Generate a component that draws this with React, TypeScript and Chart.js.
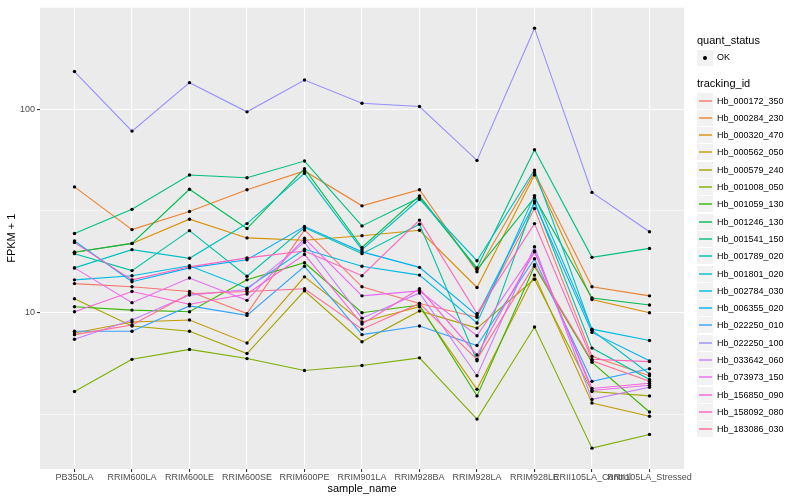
import React, { useEffect, useRef } from "react";
import { Chart, registerables } from "chart.js";

Chart.register(...registerables);

const categories = [
  "PB350LA", "RRIM600LA", "RRIM600LE", "RRIM600SE", "RRIM600PE", "RRIM901LA",
  "RRIM928BA", "RRIM928LA", "RRIM928LE", "RRII105LA_Control", "RRII105LA_Stressed",
];

const trackingIds = [
  "Hb_000172_350", "Hb_000284_230", "Hb_000320_470", "Hb_000562_050", "Hb_000579_240",
  "Hb_001008_050", "Hb_001059_130", "Hb_001246_130", "Hb_001541_150", "Hb_001789_020",
  "Hb_001801_020", "Hb_002784_030", "Hb_006355_020", "Hb_022250_010", "Hb_022250_100",
  "Hb_033642_060", "Hb_073973_150", "Hb_156850_090", "Hb_158092_080", "Hb_183086_030",
];

const seriesColors = [
  "#F8766D", "#EA8331", "#D89000", "#C09B00", "#A3A500", "#7CAE00", "#39B600", "#00BB4E",
  "#00BF7D", "#00C1A3", "#00BFC4", "#00BAE0", "#00B0F6", "#35A2FF", "#9590FF", "#C77CFF",
  "#E76BF3", "#FA62DB", "#FF62BC", "#FF6C91",
];

// FPKM + 1 per sample, one array per tracking_id
const hb000172_350 = [13.9, 13.4, 12.7, 9.9, 25.5, 13.4, 11.1, 9.5, 32.5, 6.1, 4.9];
const hb000284_230 = [41.5, 25.6, 31.4, 40.2, 49.7, 33.5, 40.2, 15.9, 48.9, 13.4, 12.1];
const hb000320_470 = [19.8, 21.9, 28.8, 23.3, 22.7, 23.9, 25.4, 13.3, 47.5, 11.6, 10.0];
const hb000562_050 = [7.95, 9.0, 9.2, 7.1, 15.0, 9.0, 10.7, 4.2, 15.3, 3.6, 3.1];
const hb000579_240 = [11.7, 8.6, 8.1, 6.3, 12.8, 7.2, 10.2, 8.4, 14.6, 4.1, 3.9];
const hb001008_050 = [4.1, 5.9, 6.6, 5.95, 5.2, 5.5, 6.0, 3.0, 8.5, 2.16, 2.52];
const hb001059_130 = [10.7, 10.3, 10.1, 14.5, 17.6, 10.0, 10.9, 3.9, 16.9, 5.7, 3.25];
const hb001246_130 = [19.8, 21.9, 40.4, 25.9, 51.0, 20.9, 37.5, 16.3, 36.7, 11.8, 10.9];
const hb001541_150 = [24.5, 32.2, 47.5, 46.0, 55.6, 26.7, 36.7, 16.6, 63.2, 18.7, 20.7];
const hb001789_020 = [19.5, 16.1, 25.3, 15.1, 26.2, 19.5, 27.2, 5.8, 35.4, 6.7, 4.7];
const hb001801_020 = [16.6, 20.4, 18.5, 27.4, 48.4, 20.4, 36.1, 18.0, 50.2, 8.2, 5.0];
const hb002784_030 = [14.5, 15.2, 17.0, 13.2, 20.5, 16.9, 15.3, 8.9, 37.6, 8.3, 7.3];
const hb006355_020 = [22.5, 14.2, 16.6, 18.2, 26.5, 19.9, 16.7, 9.7, 34.6, 8.0, 5.8];
const hb022250_010 = [8.1, 8.1, 10.8, 9.7, 16.9, 7.8, 8.6, 6.9, 18.4, 4.6, 5.3];
const hb022250_100 = [153, 78, 135, 97, 139, 107, 103, 56, 250, 39, 25];
const hb033642_060 = [7.4, 9.2, 12.2, 13.0, 22.2, 9.4, 12.5, 4.9, 21.1, 3.75, 4.3];
const hb073973_150 = [16.6, 11.2, 14.8, 11.5, 23.2, 12.1, 12.8, 7.7, 20.1, 4.15, 4.4];
const hb156850_090 = [10.1, 12.7, 11.0, 12.35, 19.3, 8.8, 13.1, 6.2, 19.9, 4.24, 4.5];
const hb158092_080 = [22.1, 14.5, 16.8, 18.6, 20.1, 15.2, 28.5, 9.9, 27.4, 5.9, 5.75];
const hb183086_030 = [7.8, 8.7, 12.4, 12.7, 13.1, 8.3, 11.1, 5.9, 17.2, 5.8, 4.6];

const seriesValues = [
  hb000172_350, hb000284_230, hb000320_470, hb000562_050, hb000579_240,
  hb001008_050, hb001059_130, hb001246_130, hb001541_150, hb001789_020,
  hb001801_020, hb002784_030, hb006355_020, hb022250_010, hb022250_100,
  hb033642_060, hb073973_150, hb156850_090, hb158092_080, hb183086_030,
];

const yTickValues = [3.1623, 10, 31.623, 100, 316.23];
const yMajorLabels = [10, 100];

const FONT = "'Liberation Sans', Arial, sans-serif";

const panelBg = {
  id: "panelBg",
  beforeDraw(chart: any) {
    const { ctx, chartArea } = chart;
    ctx.save();
    ctx.fillStyle = "#FFFFFF";
    ctx.fillRect(0, 0, chart.width, chart.height);
    ctx.fillStyle = "#EBEBEB";
    ctx.fillRect(chartArea.left, chartArea.top, chartArea.right - chartArea.left, chartArea.bottom - chartArea.top);
    ctx.restore();
  },
};

const isMajor = (v: number) => yMajorLabels.some((m) => Math.abs(v - m) < 1e-6);

export default function App() {
  const canvasRef = useRef<HTMLCanvasElement | null>(null);

  useEffect(() => {
    if (!canvasRef.current) return;
    const n = seriesValues.length;
    const lineSets = seriesValues.map((vals, i) => ({
      label: trackingIds[i],
      data: vals.map((v, j) => ({ x: j, y: v })),
      borderColor: seriesColors[i],
      backgroundColor: seriesColors[i],
      borderWidth: 1.1,
      pointRadius: 0,
      fill: false,
      tension: 0,
      order: n - i,
    }));
    const pointSet = {
      label: "OK",
      data: seriesValues.flatMap((vals) => vals.map((v, j) => ({ x: j, y: v }))),
      showLine: false,
      pointRadius: 1.7,
      pointBackgroundColor: "#000000",
      pointBorderWidth: 0,
      borderColor: "#000000",
      order: 0,
    };

    const chart = new Chart(canvasRef.current, {
      type: "line",
      data: { datasets: [pointSet as any, ...lineSets] },
      options: {
        animation: false,
        responsive: false,
        events: [],
        layout: { padding: { top: 6, right: 116, left: 0, bottom: 0 } },
        plugins: { legend: { display: false }, tooltip: { enabled: false } },
        scales: {
          x: {
            type: "linear",
            min: -0.6,
            max: 10.6,
            afterBuildTicks: (scale: any) => {
              scale.ticks = categories.map((_, i) => ({ value: i }));
            },
            afterFit: (scale: any) => {
              scale.height = 31;
            },
            ticks: {
              autoSkip: false,
              maxRotation: 0,
              minRotation: 0,
              padding: 0,
              color: "#4D4D4D",
              font: { family: FONT, size: 9 },
              callback: (v: any) => categories[Math.round(Number(v))],
            },
            grid: { color: "#FFFFFF", lineWidth: 1.1, tickColor: "#333333", tickLength: 3 },
            border: { display: false },
            title: {
              display: true,
              text: "sample_name",
              color: "#000000",
              font: { family: FONT, size: 11 },
              padding: { top: 0, bottom: 4.4 },
            },
          },
          y: {
            type: "logarithmic",
            min: 1.706,
            max: 316.23,
            afterBuildTicks: (scale: any) => {
              scale.ticks = yTickValues.map((v) => ({ value: v }));
            },
            afterFit: (scale: any) => {
              scale.width = 40;
            },
            ticks: {
              autoSkip: false,
              padding: 2,
              color: "#4D4D4D",
              font: { family: FONT, size: 9 },
              callback: (v: any) => (isMajor(Number(v)) ? String(Math.round(Number(v))) : ""),
            },
            grid: {
              color: "#FFFFFF",
              lineWidth: (ctx: any) => (ctx.tick && isMajor(ctx.tick.value) ? 1.1 : 0.55),
              tickColor: (ctx: any) => (ctx.tick && isMajor(ctx.tick.value) ? "#333333" : "rgba(0,0,0,0)"),
              tickLength: 3,
            },
            border: { display: false },
            title: {
              display: true,
              text: "FPKM + 1",
              color: "#000000",
              font: { family: FONT, size: 11 },
              padding: { top: 5.4, bottom: 0 },
            },
          },
        },
      },
      plugins: [panelBg],
    });
    return () => chart.destroy();
  }, []);

  const keyTop0 = 92.5;
  const keyStep = 17.3;

  return (
    <div style={{ position: "fixed", left: 0, top: 0, width: 800, height: 500, background: "#fff", fontFamily: FONT }}>
      <canvas ref={canvasRef} width={800} height={500} style={{ position: "absolute", left: 0, top: 0 }} />
      <div style={{ position: "absolute", left: 697, top: 34, fontSize: 11, lineHeight: "13px", color: "#000" }}>quant_status</div>
      <div style={{ position: "absolute", left: 697, top: 50, width: 16, height: 16, background: "#F2F2F2" }}>
        <div style={{ position: "absolute", left: 6, top: 6, width: 4, height: 4, borderRadius: 2, background: "#000" }} />
      </div>
      <div style={{ position: "absolute", left: 717, top: 52, fontSize: 9, lineHeight: "11px", color: "#000" }}>OK</div>
      <div style={{ position: "absolute", left: 697, top: 77, fontSize: 11, lineHeight: "13px", color: "#000" }}>tracking_id</div>
      {trackingIds.map((id, i) => {
        const top = Math.round(keyTop0 + i * keyStep);
        return (
          <React.Fragment key={id}>
            <div
              style={{
                position: "absolute",
                left: 697,
                top,
                width: 16,
                height: 16,
                background: "#F2F2F2",
              }}
            >
              <div
                style={{
                  position: "absolute",
                  left: 1.5,
                  top: 7,
                  width: 13,
                  height: 2,
                  background: seriesColors[i],
                  opacity: 0.7,
                }}
              />
            </div>
            <div
              style={{
                position: "absolute",
                left: 717,
                top: top + 2.5,
                fontSize: 9,
                lineHeight: "11px",
                color: "#000",
                whiteSpace: "nowrap",
              }}
            >
              {id}
            </div>
          </React.Fragment>
        );
      })}
    </div>
  );
}
